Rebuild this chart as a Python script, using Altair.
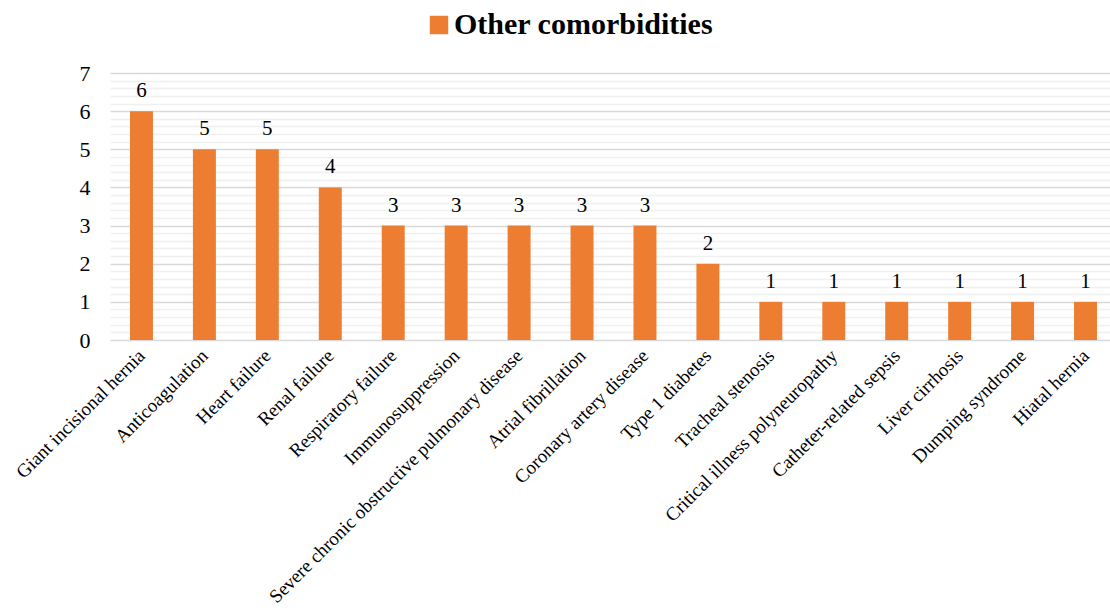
import altair as alt
import pandas as pd

categories = [
    "Giant incisional hernia", "Anticoagulation", "Heart failure", "Renal failure",
    "Respiratory failure", "Immunosuppression", "Severe chronic obstructive pulmonary disease",
    "Atrial fibrillation", "Coronary artery disease", "Type 1 diabetes", "Tracheal stenosis",
    "Critical illness polyneuropathy", "Catheter-related sepsis", "Liver cirrhosis",
    "Dumping syndrome", "Hiatal hernia",
]
counts = [6, 5, 5, 4, 3, 3, 3, 3, 3, 2, 1, 1, 1, 1, 1, 1]
series_name = "Other comorbidities"
y_ticks = [round(i * 0.2, 1) for i in range(36)]

df = pd.DataFrame({"category": categories, "count": counts, "series": series_name})

FONT = "Liberation Serif"

base = alt.Chart(df).encode(
    x=alt.X("category:N", sort=None, title=None,
            scale=alt.Scale(paddingInner=0.635, paddingOuter=0.3175, range=[0, 1007]),
            axis=alt.Axis(labelAngle=-45, labelAlign="right", labelBaseline="top",
                          labelFont=FONT, labelFontSize=19, labelColor="#000000",
                          ticks=False, domain=False, labelPadding=6, labelOffset=-6,
                          labelLimit=0)),
    y=alt.Y("count:Q", title=None,
            scale=alt.Scale(domain=[0, 7], nice=False),
            axis=alt.Axis(values=y_ticks,
                          labelExpr="datum.value % 1 === 0 ? '' + datum.value : ''",
                          labelFont=FONT, labelFontSize=22, labelColor="#000000",
                          labelPadding=20, ticks=False, domain=False,
                          gridColor={"condition": {"test": "datum.value % 1 === 0", "value": "#d9d9d9"},
                                     "value": "#f0f0f0"},
                          gridWidth=1.5)),
)

bars = base.mark_bar(color="#ED7D31").encode(
    color=alt.Color("series:N", scale=alt.Scale(range=["#ED7D31"]),
                    legend=alt.Legend(title=None, orient="none", legendX=314, legendY=-63,
                                      labelFont=FONT, labelFontSize=30, labelFontWeight="bold",
                                      labelColor="#000000", symbolType="square", symbolSize=340,
                                      symbolStrokeWidth=0, labelLimit=0, labelOffset=0))
)

labels = base.mark_text(font=FONT, fontSize=21, baseline="bottom", dy=-10, color="#000000").encode(
    text="count:Q"
)

chart = (bars + labels).properties(
    width=1000, height=267,
    autosize=alt.AutoSizeParams(type="none"),
    padding={"left": 110, "top": 73, "right": 0, "bottom": 268},
).configure_view(stroke=None)

chart.save("out.html", embed_options={"renderer": "svg", "actions": False})
